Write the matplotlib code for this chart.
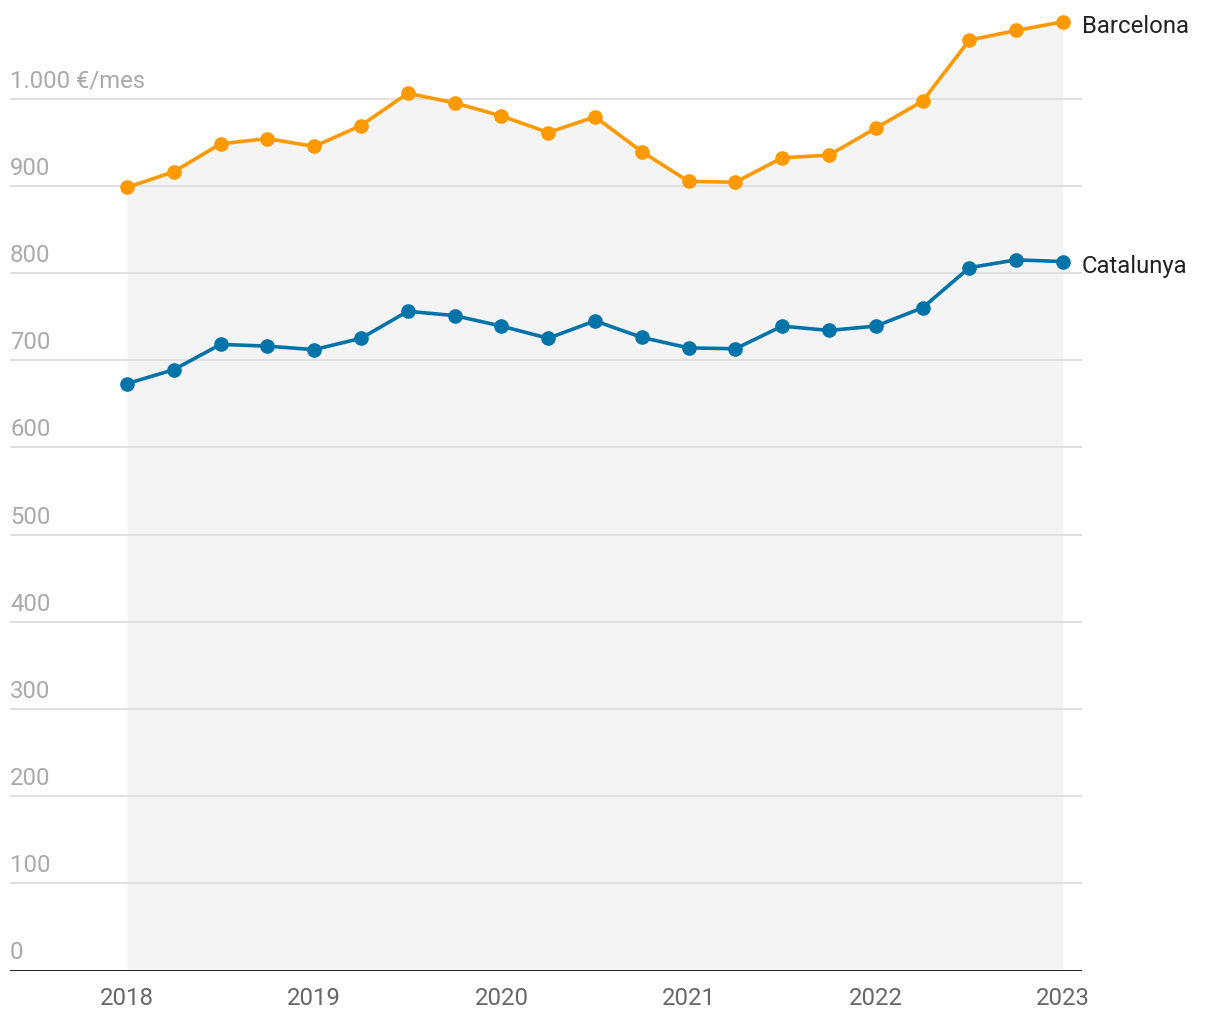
import matplotlib
matplotlib.use("Agg")
import matplotlib.pyplot as plt
import numpy as np

plt.rcParams['font.family'] = ['Roboto', 'DejaVu Sans']

# Data: quarterly, 2018 Q1 .. 2023 Q1
periods = [2018 + i * 0.25 for i in range(21)]
barcelona = [898, 916, 948, 954, 945, 969, 1006, 995, 980, 961, 979, 939,
             905, 904, 932, 935, 966, 997, 1067, 1078, 1088]
catalunya = [673, 689, 718, 716, 712, 725, 756, 751, 739, 725, 745, 726,
             714, 713, 739, 734, 739, 760, 806, 815, 813]
series_names = ["Barcelona", "Catalunya"]
colors = ["#ff9900", "#0073a8"]
yticks = [0, 100, 200, 300, 400, 500, 600, 700, 800, 900, 1000]
ytick_labels = ["0", "100", "200", "300", "400", "500", "600", "700", "800", "900", "1.000 €/mes"]
xticks = [2018, 2019, 2020, 2021, 2022, 2023]

W, H = 1220, 1020
fig = plt.figure(figsize=(W / 100, H / 100), dpi=100)
bottom_px, top_px = 971.5, 11.5
ax = fig.add_axes([10 / W, (H - bottom_px) / H, (1082 - 10) / W, (bottom_px - top_px) / H])
ax.set_xlim(2017.375, 2023.1015)
ax.set_ylim(0, (bottom_px - top_px) / 0.872)
ax.axis('off')

x = np.array(periods)
# shaded area under top series
ax.fill_between(x, 0, barcelona, color="#f4f4f4", zorder=0, linewidth=0)

# gridlines
for v in yticks[1:]:
    ax.axhline(v, color="#e0e0e0", lw=1.5, zorder=1)
ax.axhline(0, color="#111111", lw=2, zorder=5)

# y labels
for v, lab in zip(yticks, ytick_labels):
    ax.annotate(lab, xy=(0, v), xycoords=('axes fraction', 'data'),
                xytext=(0, 7), textcoords='offset pixels',
                ha='left', va='bottom', fontsize=17.2, color="#aaaaaa")

# x labels
for xv in xticks:
    ax.annotate(str(xv), xy=(xv, 0), xycoords='data',
                xytext=(0, -34), textcoords='offset pixels',
                ha='center', va='baseline', fontsize=17.2, color="#666666",
                annotation_clip=False)

for vals, name, c in zip([barcelona, catalunya], series_names, colors):
    ax.plot(x, vals, color=c, lw=2.6, marker='o', markersize=9.5, zorder=4,
            clip_on=False)
    ax.annotate(name, xy=(x[-1], vals[-1]), xycoords='data',
                xytext=(19, -4), textcoords='offset pixels',
                ha='left', va='center', fontsize=17.2, color="#222222",
                annotation_clip=False)

fig.savefig("out.png", dpi=100, facecolor="white")
